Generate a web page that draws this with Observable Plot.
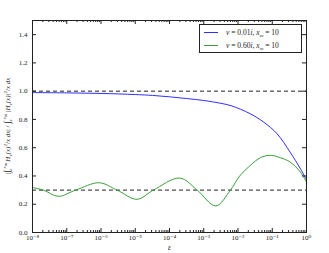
<!DOCTYPE html>
<html><head><meta charset="utf-8">
<script src="https://cdn.jsdelivr.net/npm/d3@7"></script>
<script src="https://cdn.jsdelivr.net/npm/@observablehq/plot@0.6"></script>
<style>body{margin:0;background:#fff}#c{width:329px;height:253px}</style>
</head><body><div id="c"></div>
<script>
// log10(epsilon) sample positions and series values
const epsExpBlue = [-8, -7, -6, -5, -4.5, -4, -3.5, -3, -2.5, -2.2, -1.64, -1.25, -0.86, -0.48, -0.18, 0];
const blueVals   = [0.99, 0.988, 0.984, 0.976, 0.97, 0.96, 0.948, 0.934, 0.914, 0.897, 0.84, 0.781, 0.699, 0.569, 0.452, 0.374];
const epsExpGreen = [-8, -7.68, -7.25, -6.74, -6.05, -5.53, -4.95, -4.47, -3.7, -3.19, -2.65, -2.22, -1.95, -1.64, -1.34, -1.05, -0.75, -0.48, -0.18, 0];
const greenVals   = [0.318, 0.30, 0.256, 0.30, 0.352, 0.30, 0.235, 0.30, 0.385, 0.30, 0.188, 0.30, 0.40, 0.475, 0.53, 0.546, 0.528, 0.499, 0.428, 0.357];
const refLines = [1.0, 0.3];
const yTicks = [0, 0.2, 0.4, 0.6, 0.8, 1.0, 1.2, 1.4];
const xMajorExp = [-8, -7, -6, -5, -4, -3, -2, -1, 0];
const xMinorMult = [2, 3, 4, 5, 6, 7, 8, 9];
const seriesNames = ["0.01", "0.60"];
const seriesXm = ["10", "10"];
const seriesColors = ["#2f2fff", "#3a9e3a"];

const W = 329, H = 253, mL = 32, mR = 23, mT = 20, mB = 21;
const plotW = W - mL - mR, plotH = H - mT - mB;

const blue = epsExpBlue.map((e, i) => ({x: 10 ** e, y: blueVals[i]}));
const green = epsExpGreen.map((e, i) => ({x: 10 ** e, y: greenVals[i]}));
const major = xMajorExp.map(e => 10 ** e);
const minor = xMajorExp.slice(0, -1).flatMap(e => xMinorMult.map(m => m * 10 ** e));
const sup = {"-": "\u207B", "0": "\u2070", "1": "\u00B9", "2": "\u00B2", "3": "\u00B3", "4": "\u2074", "5": "\u2075", "6": "\u2076", "7": "\u2077", "8": "\u2078", "9": "\u2079"};
const fmtX = v => "10" + String(Math.round(Math.log10(v))).replace(/./g, c => sup[c]);

const font = "'Liberation Serif', 'DejaVu Serif', serif";
const ink = "#222";

const chart = Plot.plot({
  width: W, height: H,
  marginLeft: mL, marginRight: mR, marginTop: mT, marginBottom: mB,
  style: {fontFamily: font, fontSize: "7px", background: "white", color: ink},
  x: {type: "log", domain: [1e-8, 1]},
  y: {domain: [0, 1.5]},
  marks: [
    Plot.ruleY(refLines, {y: d => d, stroke: ink, strokeDasharray: "4,3", strokeWidth: 1}),
    Plot.line(blue, {x: "x", y: "y", stroke: seriesColors[0], strokeWidth: 1, curve: "catmull-rom"}),
    Plot.line(green, {x: "x", y: "y", stroke: seriesColors[1], strokeWidth: 1, curve: "catmull-rom"}),
    Plot.tickX(major, {x: d => d, insetTop: plotH - 4, stroke: ink}),
    Plot.tickX(major, {x: d => d, insetBottom: plotH - 4, stroke: ink}),
    Plot.tickX(minor, {x: d => d, insetTop: plotH - 2, stroke: ink}),
    Plot.tickX(minor, {x: d => d, insetBottom: plotH - 2, stroke: ink}),
    Plot.tickY(yTicks, {y: d => d, insetRight: plotW - 4, stroke: ink}),
    Plot.tickY(yTicks, {y: d => d, insetLeft: plotW - 4, stroke: ink}),
    Plot.axisX(major, {tickSize: 0, tickPadding: 3, tickFormat: fmtX, label: null}),
    Plot.axisY(yTicks, {tickSize: 0, tickPadding: 5, tickFormat: d3.format(".1f"), label: null}),
    Plot.text(["\u03B5"], {frameAnchor: "bottom", dy: 17.5, fontStyle: "italic", fontSize: 7.5}),
    Plot.frame({stroke: ink})
  ]
});
document.getElementById("c").appendChild(chart);

const svg = d3.select(chart);
// y-axis label (rotated)
const yl = svg.append("text")
  .attr("transform", `translate(10,${mT + plotH / 2}) rotate(-90)`)
  .attr("text-anchor", "middle").attr("font-family", font).attr("font-size", 7).attr("fill", ink);
function addIntegral(t) {
  t.append("tspan").text("\u222B").attr("font-size", 9);
  t.append("tspan").text("\u03B5").attr("font-size", 5).attr("font-style", "italic").attr("dy", 2);
  t.append("tspan").text("x").attr("font-size", 5).attr("font-style", "italic").attr("dy", -6);
  t.append("tspan").text("m").attr("font-size", 4).attr("font-style", "italic").attr("dy", 1);
  t.append("tspan").text(" ").attr("dy", 3);
}
yl.append("tspan").text("|");
addIntegral(yl);
yl.append("tspan").text("H").attr("font-style", "italic");
yl.append("tspan").text("\u03BD").attr("font-size", 5).attr("font-style", "italic").attr("dy", 1.5);
yl.append("tspan").text("(x)").attr("font-style", "italic").attr("dy", -1.5);
yl.append("tspan").text("2").attr("font-size", 5).attr("dy", -3);
yl.append("tspan").text("/").attr("dy", 3);
yl.append("tspan").text("x d").attr("font-style", "italic");
yl.append("tspan").text("x").attr("font-style", "italic");
yl.append("tspan").text("| / ");
addIntegral(yl);
yl.append("tspan").text("|H").attr("font-style", "italic");
yl.append("tspan").text("\u03BD").attr("font-size", 5).attr("font-style", "italic").attr("dy", 1.5);
yl.append("tspan").text("(x)|").attr("font-style", "italic").attr("dy", -1.5);
yl.append("tspan").text("2").attr("font-size", 5).attr("dy", -3);
yl.append("tspan").text("/").attr("dy", 3);
yl.append("tspan").text("x dx").attr("font-style", "italic");

// legend
const lg = svg.append("g").attr("font-family", font).attr("font-size", 7.5).attr("fill", ink).attr("text-anchor", "start");
lg.append("rect").attr("x", 199.5).attr("y", 24.5).attr("width", 102).attr("height", 28)
  .attr("fill", "white").attr("stroke", ink);
seriesNames.forEach((nm, i) => {
  const y = 32.5 + i * 13;
  lg.append("line").attr("x1", 204).attr("x2", 218).attr("y1", y).attr("y2", y)
    .attr("stroke", seriesColors[i]).attr("stroke-width", 1);
  const t = lg.append("text").attr("x", 226).attr("y", y + 2.5).attr("text-anchor", "start");
  t.append("tspan").text("\u03BD").attr("font-style", "italic");
  t.append("tspan").text(" = " + nm);
  t.append("tspan").text("i").attr("font-style", "italic");
  t.append("tspan").text(", ");
  t.append("tspan").text("x").attr("font-style", "italic");
  t.append("tspan").text("m").attr("font-style", "italic").attr("font-size", 5).attr("dy", 1.5);
  t.append("tspan").text(" = " + seriesXm[i]).attr("dy", -1.5);
});
</script></body></html>
